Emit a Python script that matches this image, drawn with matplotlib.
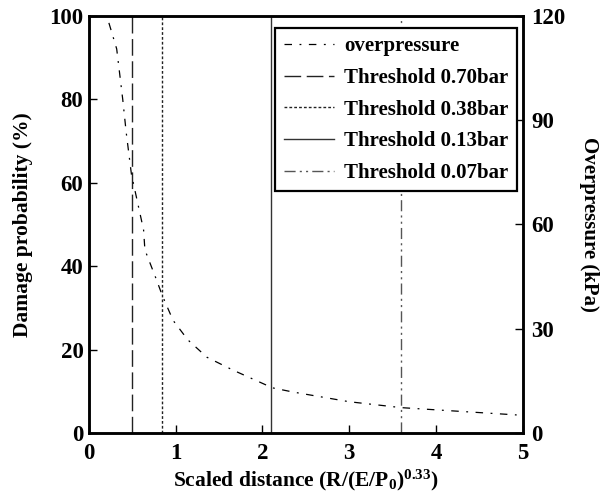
import numpy as np
import matplotlib.pyplot as plt

plt.rcParams['font.family'] = ['Liberation Serif', 'DejaVu Serif']
plt.rcParams['font.weight'] = 'bold'
plt.rcParams['mathtext.default'] = 'regular'

# overpressure curve (kPa vs scaled distance)
dist = [0.23, 0.32, 0.39, 0.43, 0.49, 0.63, 0.645, 0.78, 0.845, 0.97, 1.14,
        1.36, 1.66, 2.115, 2.35, 3.0, 3.6, 4.93]
press = [118, 110.5, 95.9, 86.4, 74.4, 58.4, 52.7, 44.0, 39.6, 32.4, 26.8,
         21.8, 18.1, 13.0, 11.8, 9.0, 7.3, 5.2]

thr_labels = ['Threshold 0.70bar', 'Threshold 0.38bar', 'Threshold 0.13bar', 'Threshold 0.07bar']
thr_x = [0.5, 0.84, 2.1, 3.6]
thr_styles = [(0, (12, 4)), (0, (2, 1.5)), '-', (0, (8, 3, 1.5, 3, 1.5, 3))]
thr_colors = ['#222222', '#222222', '#333333', '#555555']

fig = plt.figure(figsize=(6.05, 4.98), dpi=100)
ax = fig.add_axes([0.147, 0.1305, 0.717, 0.8375])
ax2 = ax.twinx()

handles = []
h, = ax2.plot(dist, press, color='black', lw=0.9, ls=(0, (6, 6, 1.5, 6)), label='overpressure')
handles.append(h)
for xv, lab, ls, c in zip(thr_x, thr_labels, thr_styles, thr_colors):
    h = ax.axvline(xv, color=c, lw=1.0, ls=ls, label=lab)
    handles.append(h)

ax.set_xlim(0, 5)
ax.set_ylim(0, 100)
ax2.set_ylim(0, 120)
ax.set_xticks([0, 1, 2, 3, 4, 5])
ax.set_yticks([0, 20, 40, 60, 80, 100])
ax2.set_yticks([0, 30, 60, 90, 120])

for a in (ax, ax2):
    a.tick_params(direction='in', length=6, width=1, labelsize=16.5)
    for s in a.spines.values():
        s.set_linewidth(1.8)
ax.tick_params(axis='x', pad=7)
ax.tick_params(axis='y', pad=4)
ax2.tick_params(axis='y', pad=6)

ax.set_xlabel('Scaled distance (R/(E/P$_0$)$^{0.33}$)', fontsize=15.5, fontweight='bold', labelpad=3)
ax.set_ylabel('Damage probability (%)', fontsize=15.5, fontweight='bold', labelpad=12)
ax2.set_ylabel('Overpressure (kPa)', fontsize=15, fontweight='bold', rotation=270, labelpad=24)

leg = ax2.legend(handles=handles, loc='upper right', bbox_to_anchor=(0.986, 0.971),
                 borderaxespad=0, fontsize=15, frameon=True, fancybox=False, handlelength=2.4,
                 borderpad=0.4, labelspacing=0.56, handletextpad=0.5)
leg.get_frame().set_edgecolor('black')
leg.get_frame().set_linewidth(1.6)
leg.get_frame().set_alpha(1)

fig.savefig('out.png', dpi=100)
